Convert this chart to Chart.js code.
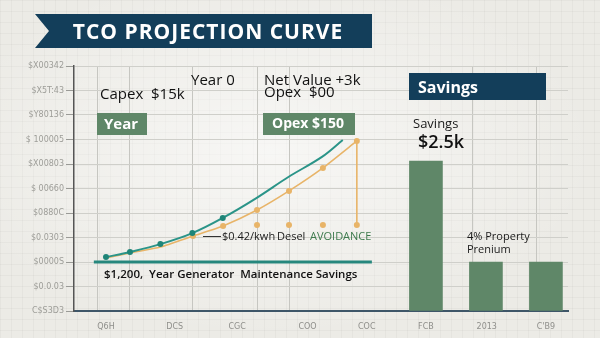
<!DOCTYPE html>
<html><head><meta charset="utf-8">
<script src="https://cdn.jsdelivr.net/npm/chart.js@4/dist/chart.umd.min.js"></script>
<style>
html,body{margin:0;padding:0;}
body{width:600px;height:338px;overflow:hidden;position:relative;
background-color:#ecebe6;
background-image:radial-gradient(ellipse at 45% 45%, rgba(255,255,255,0.6), rgba(255,255,255,0) 70%),
linear-gradient(rgba(0,0,0,0.03) 1px, transparent 1px),
linear-gradient(90deg, rgba(0,0,0,0.03) 1px, transparent 1px);
background-size:100% 100%,11px 11px,11px 11px;}
#wrap{position:absolute;left:0;top:0;width:600px;height:338px;}
</style></head>
<body><div id="wrap"><canvas id="c" width="600" height="338"></canvas></div>
<script>
// ---- data ----
const yTickLabels = ['C$S3D3','$0.0.03','$0000S','$0.0303','$0880C','$ 00660','$X00803','$ 100005','$Y80136','$X5T:43','$X00342'];
const xTickLabels = ['Q6H','DCS','CGC','COO','COC','FCB','2013',"C'B9"];
const xTickValues = [0, 2.15, 4.1, 6.3, 8.15, 10, 11.9, 13.75];
const xGridValues = [-0.28, 0.72, 2.69, 4.72, 5.72, 11.44, 13.47];

const tealX = [0, 0.75, 1.7, 2.7, 3.65, 4.7, 5.7, 6.75, 7.4];
const tealY = [2.20, 2.41, 2.73, 3.18, 3.80, 4.61, 5.47, 6.29, 6.98];
const orangeX = [0, 0.75, 1.7, 2.72, 3.66, 4.72, 5.72, 6.78, 7.84];
const orangeY = [2.16, 2.37, 2.61, 3.06, 3.47, 4.12, 4.90, 5.84, 6.94];
const dropX = [4.72, 5.72, 6.78, 7.84];
const dropLevel = 3.51;
const baselineX = [-0.38, 8.31];
const baselineValue = 2.0;
const barX = [10, 11.875, 13.75];
const barY = [6.12, 2.0, 2.0];

const XMIN = -1, XMAX = 14.44;
const zip = (xs, ys) => xs.map((x, i) => ({x, y: ys[i]}));

const TEAL = '#2a9488', ORANGE = '#e8b468', GREEN = '#5f8768', NAVY = '#133e5a';

const annot = {
  id: 'annot',
  afterDraw(c) {
    const g = c.ctx; g.save();
    const txt = (s, x, y, font, color, align, ls) => { g.font = font; g.fillStyle = color; g.textAlign = align || 'left'; g.textBaseline = 'alphabetic'; g.letterSpacing = ls || '0px'; g.fillText(s, x, y); };
    const box = (x, y, w, h, col) => { g.fillStyle = col; g.fillRect(x, y, w, h); };
    const F = '"Open Sans", sans-serif';
    // title banner
    g.fillStyle = NAVY;
    g.beginPath(); g.moveTo(35, 14); g.lineTo(372, 14); g.lineTo(372, 48); g.lineTo(35, 48); g.lineTo(49, 31); g.closePath(); g.fill();
    txt('TCO PROJECTION CURVE', 208, 39, '700 21px ' + F, '#ffffff', 'center', '1px');
    // top labels
    txt('Year 0', 191, 85, '400 15px ' + F, '#111', 'left');
    txt('Net Value +3k', 264, 85, '400 15px ' + F, '#111', 'left');
    txt('Opex  $00', 264, 97, '400 15px ' + F, '#111', 'left');
    txt('Capex  $15k', 100, 99, '400 15px ' + F, '#111', 'left');
    box(97, 113, 50, 22, GREEN); txt('Year', 104, 129, '700 15px ' + F, '#fff');
    box(263, 113, 92, 22, GREEN); txt('Opex $150', 308, 128, '700 14px ' + F, '#fff', 'center');
    box(409, 73, 137, 27, NAVY); txt('Savings', 418, 93, '700 16px ' + F, '#fff');
    txt('Savings', 413, 128, '400 13px ' + F, '#1a1a1a');
    txt('$2.5k', 418, 148, '600 18px ' + F, '#111');
    txt('4% Property', 467, 240, '400 11px ' + F, '#1a1a1a');
    txt('Prenium', 467, 253, '400 11px ' + F, '#1a1a1a');
    // leader line + avoidance label
    g.strokeStyle = '#333'; g.lineWidth = 1; g.beginPath(); g.moveTo(203, 236.5); g.lineTo(221, 236.5); g.stroke();
    txt('$0.42/kwh', 222, 240, '400 11px ' + F, '#1a1a1a');
    txt('Desel', 277, 240, '400 11px ' + F, '#1a1a1a');
    txt('AVOIDANCE', 310, 240, '400 11px ' + F, '#3d7a4d');
    txt('$1,200,  Year Generator  Maintenance Savings', 104, 278, '600 11.5px ' + F, '#111');
    g.restore();
  }
};

new Chart(document.getElementById('c'), {
  type: 'bar',
  data: {
    datasets: [
      { type: 'bar', data: zip(barX, barY), backgroundColor: GREEN, barThickness: 33, xAxisID: 'x', yAxisID: 'y' },
      { type: 'line', data: zip(baselineX, [baselineValue, baselineValue]), borderColor: '#26877d', borderWidth: 3, pointRadius: 0, xAxisID: 'x', yAxisID: 'y' },
      { type: 'line', data: zip(tealX, tealY), borderColor: TEAL, borderWidth: 2, tension: 0.35,
        pointRadius: [3,3,3,3,3,0,0,0,0], pointBackgroundColor: '#1f8578', pointBorderWidth: 0, xAxisID: 'x', yAxisID: 'y' },
      { type: 'line', data: zip(orangeX, orangeY), borderColor: ORANGE, borderWidth: 1.6, tension: 0.2,
        pointRadius: [0,0,0,3,3,3,3,3,3], pointBackgroundColor: ORANGE, pointBorderWidth: 0, xAxisID: 'x', yAxisID: 'y' },
      { type: 'line', data: dropX.map(x => ({x, y: dropLevel})), showLine: false, pointRadius: 3, pointBackgroundColor: ORANGE, pointBorderWidth: 0, xAxisID: 'x', yAxisID: 'y' },
      { type: 'line', data: [{x: orangeX[orangeX.length-1], y: orangeY[orangeY.length-1]}, {x: orangeX[orangeX.length-1], y: dropLevel}], borderColor: ORANGE, borderWidth: 1.6, pointRadius: 0, xAxisID: 'x', yAxisID: 'y' }
    ]
  },
  options: {
    responsive: false, animation: false,
    layout: { padding: { left: 0, right: 32, top: 66, bottom: 0 } },
    plugins: { legend: { display: false }, tooltip: { enabled: false } },
    scales: {
      x: { type: 'linear', position: 'bottom', min: XMIN, max: XMAX, offset: false,
        afterBuildTicks: s => { s.ticks = xTickValues.map(v => ({ value: v })); },
        ticks: { callback: (v, i) => xTickLabels[i], font: { size: 8, family: '"DejaVu Sans", sans-serif' }, color: '#8f8f8b', padding: 3, autoSkip: false, maxRotation: 0 },
        grid: { display: false, offset: false }, border: { display: true, color: '#3e5668', width: 2 },
        afterFit: s => { s.height = 27; } },
      xg: { type: 'linear', position: 'top', min: XMIN, max: XMAX, offset: false,
        afterBuildTicks: s => { s.ticks = xGridValues.map(v => ({ value: v })); },
        ticks: { display: false }, grid: { color: '#c6c6c1', drawTicks: false, lineWidth: 1, offset: false }, border: { display: false },
        afterFit: s => { s.height = 0; } },
      y: { min: 0, max: 10,
        ticks: { stepSize: 1, callback: v => yTickLabels[v], font: { size: 8, family: '"DejaVu Sans", sans-serif' }, color: '#9d9d98', padding: 2 },
        grid: { color: '#cfcfca', tickLength: 8, tickColor: '#9a9a96' }, border: { color: '#555', width: 1.5 },
        afterFit: s => { s.width = 74; } }
    }
  },
  plugins: [annot]
});
</script></body></html>
